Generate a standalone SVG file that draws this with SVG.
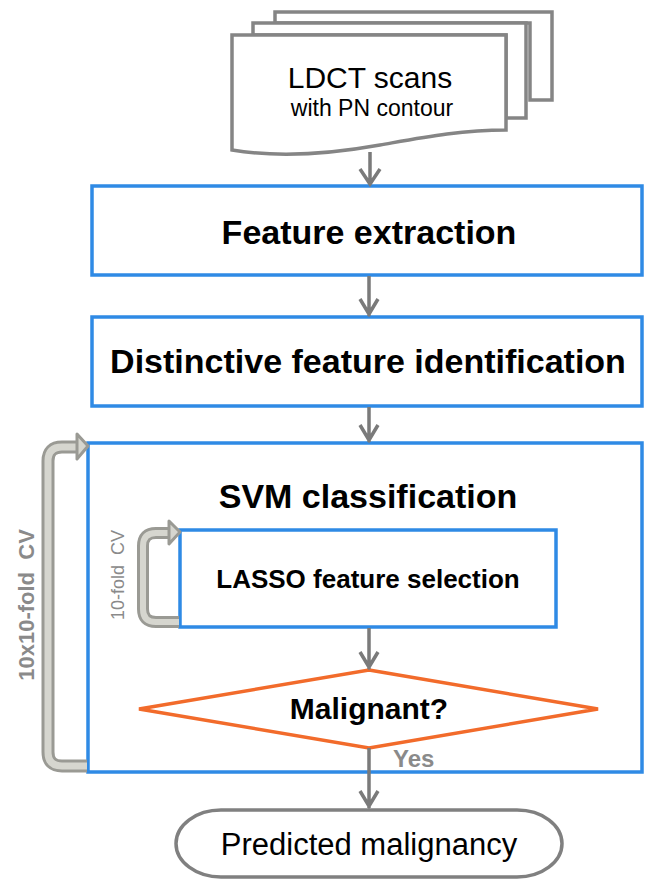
<svg xmlns="http://www.w3.org/2000/svg" width="647" height="880" viewBox="0 0 647 880">
<defs>
<style>
.bg{fill:#ffffff}
.box{fill:#ffffff;stroke:#2F8AE5;stroke-width:3.5}
.doc{fill:#ffffff;stroke:#858585;stroke-width:3.5;stroke-linejoin:miter}
.dia{fill:#ffffff;stroke:#F26B2B;stroke-width:3.5}
.term{fill:#ffffff;stroke:#808080;stroke-width:3.5}
.arr{fill:none;stroke:#7A7A7A;stroke-width:3.5}
.cvo{fill:none;stroke:#9A9A94;stroke-width:13}
.cvi{fill:none;stroke:#D6D6CF;stroke-width:7}
.cvh{fill:#D6D6CF;stroke:#9A9A94;stroke-width:3;stroke-linejoin:round}
.t{font-family:"Liberation Sans",Arial,sans-serif;fill:#000;text-anchor:middle}
.b{font-weight:bold}
.g{fill:#8A8A8A}
</style>
</defs>
<rect class="bg" x="0" y="0" width="647" height="880"/>

<g id="ldct">
<path class="doc" d="M275 12 H552 V100 H530 V23 H275 Z"/>
<path class="doc" d="M253 23 H526 V118 H506 V35 H253 Z"/>
<path class="doc" d="M232 35 H506 V130 C460 130 420 138 380 145 C330 154 280 158 232 150 Z"/>
<text class="t" x="370" y="88" style="font-size:30px">LDCT scans</text>
<text class="t" x="372" y="116" style="font-size:23px">with PN contour</text>
</g>

<g id="feature-extraction">
<rect class="box" x="92" y="186" width="550" height="89"/>
<text class="t b" x="369" y="244" style="font-size:34px">Feature extraction</text>
</g>

<g id="distinctive">
<rect class="box" x="92" y="317" width="550" height="89"/>
<text class="t b" x="368" y="373" style="font-size:34px">Distinctive feature identification</text>
</g>

<g id="svm">
<rect class="box" x="88" y="443" width="554" height="329"/>
<text class="t b" x="368" y="508" style="font-size:34px">SVM classification</text>
</g>

<g id="lasso">
<rect class="box" x="180" y="530" width="376" height="97"/>
<text class="t b" x="368" y="588" style="font-size:26px">LASSO feature selection</text>
</g>

<g id="malignant">
<polygon class="dia" points="369,670 598,709 369,748 139,709"/>
<text class="t b" x="369" y="719" style="font-size:30px">Malignant?</text>
</g>

<g id="predicted">
<rect class="term" x="176" y="810" width="386" height="67" rx="45" ry="33.5"/>
<text class="t" x="369" y="855" style="font-size:31px">Predicted malignancy</text>
</g>

<g id="connectors">
<path class="arr" d="M370 152 V185 M360 169 L370 184 L380 169"/>
<path class="arr" d="M369 276 V316 M360 299 L369 314 L378 299"/>
<path class="arr" d="M369 407 V442 M360 425 L369 440 L378 425"/>
<path class="arr" d="M369 628 V669 M360 652 L369 667 L378 652"/>
<path class="arr" d="M369 748 V808 M360 791 L369 806 L378 791"/>
<g id="cv-outer">
<path class="cvo" d="M87 766 H62 Q48 766 48 752 V461 Q48 447 62 447 H80"/>
<path class="cvi" d="M87 766 H62 Q48 766 48 752 V461 Q48 447 62 447 H80"/>
<polygon class="cvh" points="77,434 88,446 77,459"/>
</g>
<g id="cv-inner">
<path class="cvo" style="stroke-width:12" d="M179 622 H156 Q143 622 143 609 V546 Q143 533 156 533 H171"/>
<path class="cvi" style="stroke-width:6" d="M179 622 H156 Q143 622 143 609 V546 Q143 533 156 533 H171"/>
<polygon class="cvh" points="169,521 180,532 169,544"/>
</g>
<text class="t b g" x="393" y="767" style="text-anchor:start;font-size:24px">Yes</text>
<text class="t b g" xml:space="preserve" transform="translate(34 605) rotate(-90)" style="font-size:22px">10x10-fold  CV</text>
<text class="t g" xml:space="preserve" transform="translate(124 575) rotate(-90)" style="font-size:18px">10-fold  CV</text>
</g>
</svg>
